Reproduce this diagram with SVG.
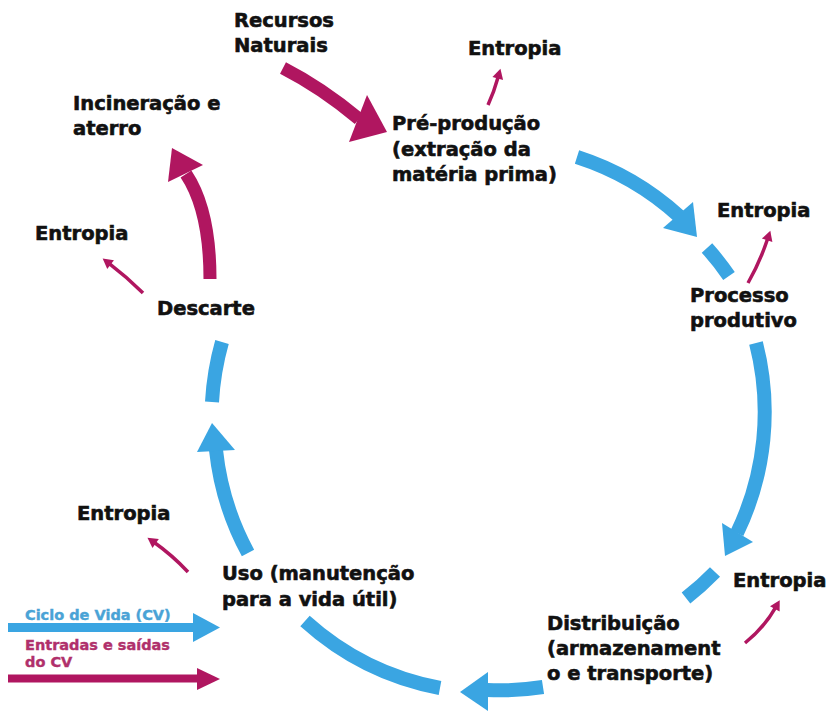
<svg xmlns="http://www.w3.org/2000/svg" width="831" height="711" viewBox="0 0 831 711">
<style>
  .lbl { font-family: "DejaVu Sans", "Liberation Sans", sans-serif; font-weight: bold; font-size: 19.5px; fill: #111; stroke: #111; stroke-width: 0.6px; }
  .leg { font-family: "DejaVu Sans", "Liberation Sans", sans-serif; font-weight: bold; font-size: 14.5px; stroke-width: 0.4px; }
  .cv { fill: none; stroke: #3aa5e2; stroke-width: 14; stroke-linecap: butt; }
  .cvh { fill: #3aa5e2; }
  .io { fill: none; stroke: #b01660; stroke-width: 13; stroke-linecap: butt; }
  .ioh { fill: #b01660; }
  .ent { fill: none; stroke: #b01660; stroke-width: 3.5; marker-end: url(#eh); }
</style>
<defs>
  <marker id="eh" markerUnits="userSpaceOnUse" markerWidth="12" markerHeight="12" viewBox="0 -6 10 12" refX="2" refY="0" orient="auto">
    <path d="M0,-5.5 L10,0 L0,5.5 z" fill="#b01660"/>
  </marker>
</defs>
<rect width="831" height="711" fill="#fff"/>

<g id="connectors">
  <!-- life cycle (blue) -->
  <path class="cv" d="M577,157 A278,278 0 0 1 679,216"/>
  <polygon class="cvh" points="693,202 697,237 663,228"/>
  <path class="cv" d="M707,248 A278,278 0 0 1 729,276"/>
  <path class="cv" d="M756,343 A278,278 0 0 1 737,533"/>
  <polygon class="cvh" points="722,523 753,542 725,556"/>
  <path class="cv" d="M715,572 A278,278 0 0 1 686,598"/>
  <path class="cv" d="M543,687 A278,278 0 0 1 487,690"/>
  <polygon class="cvh" points="488,672 460,692 488,711"/>
  <path class="cv" d="M440,688 A278,278 0 0 1 305,621"/>
  <path class="cv" d="M248,553 A278,278 0 0 1 216,450"/>
  <polygon class="cvh" points="197,452 212,423 235,450"/>
  <path class="cv" d="M212,402 A278,278 0 0 1 222,342"/>

  <!-- inputs / outputs (magenta) -->
  <path class="io" d="M283,68 Q322,88 359,119"/>
  <polygon class="ioh" points="367,95 387,132 349,142"/>
  <path class="io" d="M210,279 Q210,210 186,174"/>
  <polygon class="ioh" points="168,182 172,148 203,165"/>

  <!-- entropy arrows -->
  <path class="ent" d="M488,105 Q494,92 498.3,76.5"/>
  <path class="ent" d="M748,283 Q760,262 767.8,238.3"/>
  <path class="ent" d="M745,643 Q764,628 775.8,607.1"/>
  <path class="ent" d="M188,572 Q172,555 154,542.3"/>
  <path class="ent" d="M143,293 Q127,277 109,263.3"/>

  <!-- legend arrows -->
  <line x1="8" y1="627.5" x2="194" y2="627.5" stroke="#3aa5e2" stroke-width="9"/>
  <polygon class="cvh" points="193,613 220,627.5 193,642"/>
  <line x1="8" y1="678.5" x2="198" y2="678.5" stroke="#b01660" stroke-width="8"/>
  <polygon class="ioh" points="197,668 220,679 197,690"/>
</g>

<g id="recursos"><text class="lbl" x="234" y="27">Recursos</text><text class="lbl" x="234" y="52">Naturais</text></g>
<g id="pre-producao"><text class="lbl" x="392" y="130">Pré-produção</text><text class="lbl" x="392" y="156">(extração da</text><text class="lbl" x="392" y="181">matéria prima)</text></g>
<g id="entropia-pre"><text class="lbl" x="468" y="55">Entropia</text></g>
<g id="entropia-proc"><text class="lbl" x="717" y="217">Entropia</text></g>
<g id="processo"><text class="lbl" x="690" y="302">Processo</text><text class="lbl" x="690" y="327">produtivo</text></g>
<g id="entropia-dist"><text class="lbl" x="733" y="587">Entropia</text></g>
<g id="distribuicao"><text class="lbl" x="547" y="630">Distribuição</text><text class="lbl" x="547" y="655">(armazenament</text><text class="lbl" x="547" y="680">o e transporte)</text></g>
<g id="uso"><text class="lbl" x="222" y="580">Uso (manutenção</text><text class="lbl" x="222" y="606">para a vida útil)</text></g>
<g id="entropia-uso"><text class="lbl" x="77" y="520">Entropia</text></g>
<g id="descarte"><text class="lbl" x="157" y="315">Descarte</text></g>
<g id="entropia-desc"><text class="lbl" x="35" y="240">Entropia</text></g>
<g id="incineracao"><text class="lbl" x="73" y="110">Incineração e</text><text class="lbl" x="73" y="135">aterro</text></g>
<g id="legend">
  <text class="leg" x="25" y="620" fill="#4aa3d6" stroke="#4aa3d6">Ciclo de Vida (CV)</text>
  <text class="leg" x="25" y="650" fill="#b0306b" stroke="#b0306b">Entradas e saídas</text>
  <text class="leg" x="25" y="667" fill="#b0306b" stroke="#b0306b">do CV</text>
</g>
</svg>
